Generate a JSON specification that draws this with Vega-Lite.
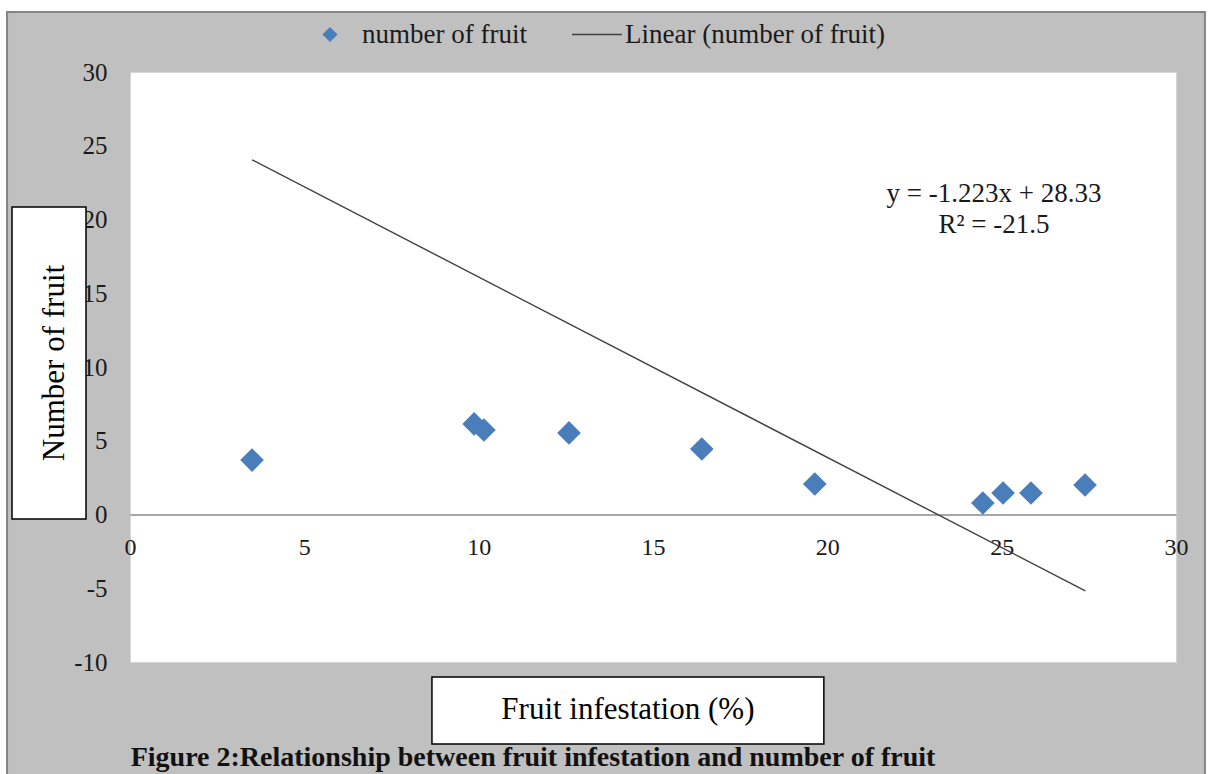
{
  "$schema": "https://vega.github.io/schema/vega-lite/v6.json",
  "width": 1046,
  "height": 590,
  "autosize": {"type": "none"},
  "padding": {"left": 130, "top": 72, "right": 33, "bottom": 112},
  "background": "#c0c0c0",
  "config": {
    "view": {"fill": "white", "stroke": "#d6d6d6", "strokeWidth": 1},
    "font": "Liberation Serif",
    "axisX": {
      "offset": -147.5,
      "domain": true,
      "domainColor": "#8a8a8a",
      "domainWidth": 1.5,
      "ticks": false,
      "grid": false,
      "labelPadding": 21,
      "labelFont": "Liberation Serif",
      "labelFontSize": 24,
      "labelColor": "#1a1a1a",
      "labelFlush": false,
      "labelOverlap": false
    },
    "axisY": {
      "domain": false,
      "ticks": false,
      "grid": false,
      "labelPadding": 23,
      "labelFont": "Liberation Serif",
      "labelFontSize": 25,
      "labelColor": "#1a1a1a",
      "labelFlush": false,
      "labelOverlap": false
    }
  },
  "datasets": {
    "points": [
      {"infestation": 3.5, "fruit": 3.69},
      {"infestation": 9.87, "fruit": 6.14},
      {"infestation": 10.15, "fruit": 5.73},
      {"infestation": 12.59, "fruit": 5.53},
      {"infestation": 16.4, "fruit": 4.44},
      {"infestation": 19.64, "fruit": 2.07},
      {"infestation": 24.46, "fruit": 0.78},
      {"infestation": 25.04, "fruit": 1.46},
      {"infestation": 25.84, "fruit": 1.46},
      {"infestation": 27.39, "fruit": 2.0}
    ],
    "trend": [
      {"infestation": 3.5, "fruit": 24.05},
      {"infestation": 27.4, "fruit": -5.18}
    ],
    "one": [{"k": 1}]
  },
  "layer": [
    {
      "data": {"name": "one"},
      "mark": {"type": "rect", "fill": "white", "clip": false},
      "encoding": {
        "x": {"datum": -4, "type": "quantitative", "title": null}, "x2": {"datum": 31},
        "y": {"datum": 40, "type": "quantitative", "title": null}, "y2": {"datum": 34.07}
      }
    },
    {
      "data": {"name": "one"},
      "mark": {"type": "rect", "fill": "white", "clip": false},
      "encoding": {
        "x": {"datum": -4, "type": "quantitative", "title": null}, "x2": {"datum": -3.527},
        "y": {"datum": 40, "type": "quantitative", "title": null}, "y2": {"datum": -20}
      }
    },
    {
      "data": {"name": "one"},
      "mark": {"type": "rect", "fill": "white", "clip": false},
      "encoding": {
        "x": {"datum": 30.83, "type": "quantitative", "title": null}, "x2": {"datum": 31},
        "y": {"datum": 40, "type": "quantitative", "title": null}, "y2": {"datum": -20}
      }
    },
    {
      "data": {"name": "one"},
      "mark": {"type": "rect", "fillOpacity": 0, "stroke": "#858585", "strokeWidth": 2, "clip": false},
      "encoding": {
        "x": {"datum": -3.527, "type": "quantitative", "title": null}, "x2": {"datum": 30.83},
        "y": {"datum": 34.07, "type": "quantitative", "title": null}, "y2": {"datum": -20}
      }
    },
    {
      "data": {"name": "trend"},
      "mark": {"type": "line", "color": "#404040", "strokeWidth": 1.4},
      "encoding": {
        "x": {"field": "infestation", "type": "quantitative", "title": null},
        "y": {"field": "fruit", "type": "quantitative", "title": null}
      }
    },
    {
      "data": {"name": "points"},
      "mark": {"type": "point", "shape": "diamond", "filled": true, "size": 560, "color": "#4a7ebb", "opacity": 1},
      "encoding": {
        "x": {
          "field": "infestation",
          "type": "quantitative",
          "title": null,
          "scale": {"domain": [0, 30], "nice": false, "zero": false},
          "axis": {"values": [0, 5, 10, 15, 20, 25, 30], "labelExpr": "toString(datum.value)", "title": null}
        },
        "y": {
          "field": "fruit",
          "type": "quantitative",
          "title": null,
          "scale": {"domain": [-10, 30], "nice": false, "zero": false},
          "axis": {"values": [-10, -5, 0, 5, 10, 15, 20, 25, 30], "labelExpr": "toString(datum.value)", "title": null}
        }
      }
    },
    {
      "data": {"name": "one"},
      "mark": {"type": "text", "text": "y = -1.223x + 28.33", "font": "Liberation Serif", "fontSize": 27, "color": "#1a1a1a", "align": "center", "baseline": "middle"},
      "encoding": {"x": {"datum": 24.78, "type": "quantitative", "title": null}, "y": {"datum": 21.73, "type": "quantitative", "title": null}}
    },
    {
      "data": {"name": "one"},
      "mark": {"type": "text", "text": "R² = -21.5", "font": "Liberation Serif", "fontSize": 27, "color": "#1a1a1a", "align": "center", "baseline": "middle"},
      "encoding": {"x": {"datum": 24.78, "type": "quantitative", "title": null}, "y": {"datum": 19.63, "type": "quantitative", "title": null}}
    },
    {
      "data": {"name": "one"},
      "mark": {"type": "point", "shape": "diamond", "filled": true, "size": 230, "color": "#4a7ebb", "opacity": 1, "clip": false},
      "encoding": {"x": {"datum": 5.736, "type": "quantitative", "title": null}, "y": {"datum": 32.54, "type": "quantitative", "title": null}}
    },
    {
      "data": {"name": "one"},
      "mark": {"type": "text", "text": "number of fruit", "font": "Liberation Serif", "fontSize": 27, "color": "#1a1a1a", "align": "left", "baseline": "middle"},
      "encoding": {"x": {"datum": 6.653, "type": "quantitative", "title": null}, "y": {"datum": 32.54, "type": "quantitative", "title": null}}
    },
    {
      "data": {"name": "one"},
      "mark": {"type": "rule", "color": "#404040", "strokeWidth": 1.4, "clip": false},
      "encoding": {"x": {"datum": 12.676, "type": "quantitative", "title": null}, "x2": {"datum": 14.11}, "y": {"datum": 32.54, "type": "quantitative", "title": null}}
    },
    {
      "data": {"name": "one"},
      "mark": {"type": "text", "text": "Linear (number of fruit)", "font": "Liberation Serif", "fontSize": 27, "color": "#1a1a1a", "align": "left", "baseline": "middle"},
      "encoding": {"x": {"datum": 14.196, "type": "quantitative", "title": null}, "y": {"datum": 32.54, "type": "quantitative", "title": null}}
    },
    {
      "data": {"name": "one"},
      "mark": {"type": "rect", "fill": "white", "stroke": "black", "strokeWidth": 1.5, "clip": false},
      "encoding": {
        "x": {"datum": -3.384, "type": "quantitative", "title": null}, "x2": {"datum": -1.262},
        "y": {"datum": 20.85, "type": "quantitative", "title": null}, "y2": {"datum": -0.305}
      }
    },
    {
      "data": {"name": "one"},
      "mark": {"type": "text", "text": "Number of fruit", "font": "Liberation Serif", "fontSize": 31, "color": "black", "align": "center", "baseline": "middle", "angle": 270},
      "encoding": {"x": {"datum": -2.15, "type": "quantitative", "title": null}, "y": {"datum": 10.27, "type": "quantitative", "title": null}}
    },
    {
      "data": {"name": "one"},
      "mark": {"type": "rect", "fill": "white", "stroke": "black", "strokeWidth": 1.5, "clip": false},
      "encoding": {
        "x": {"datum": 8.66, "type": "quantitative", "title": null}, "x2": {"datum": 19.9},
        "y": {"datum": -11.02, "type": "quantitative", "title": null}, "y2": {"datum": -15.56}
      }
    },
    {
      "data": {"name": "one"},
      "mark": {"type": "text", "text": "Fruit infestation (%)", "font": "Liberation Serif", "fontSize": 31, "color": "black", "align": "center", "baseline": "middle"},
      "encoding": {"x": {"datum": 14.28, "type": "quantitative", "title": null}, "y": {"datum": -13.25, "type": "quantitative", "title": null}}
    },
    {
      "data": {"name": "one"},
      "mark": {"type": "text", "text": "Figure 2:Relationship between fruit infestation and number of fruit", "font": "Liberation Serif", "fontSize": 28, "fontWeight": "bold", "color": "#111111", "align": "center", "baseline": "middle"},
      "encoding": {"x": {"datum": 11.56, "type": "quantitative", "title": null}, "y": {"datum": -16.5, "type": "quantitative", "title": null}}
    }
  ]
}
